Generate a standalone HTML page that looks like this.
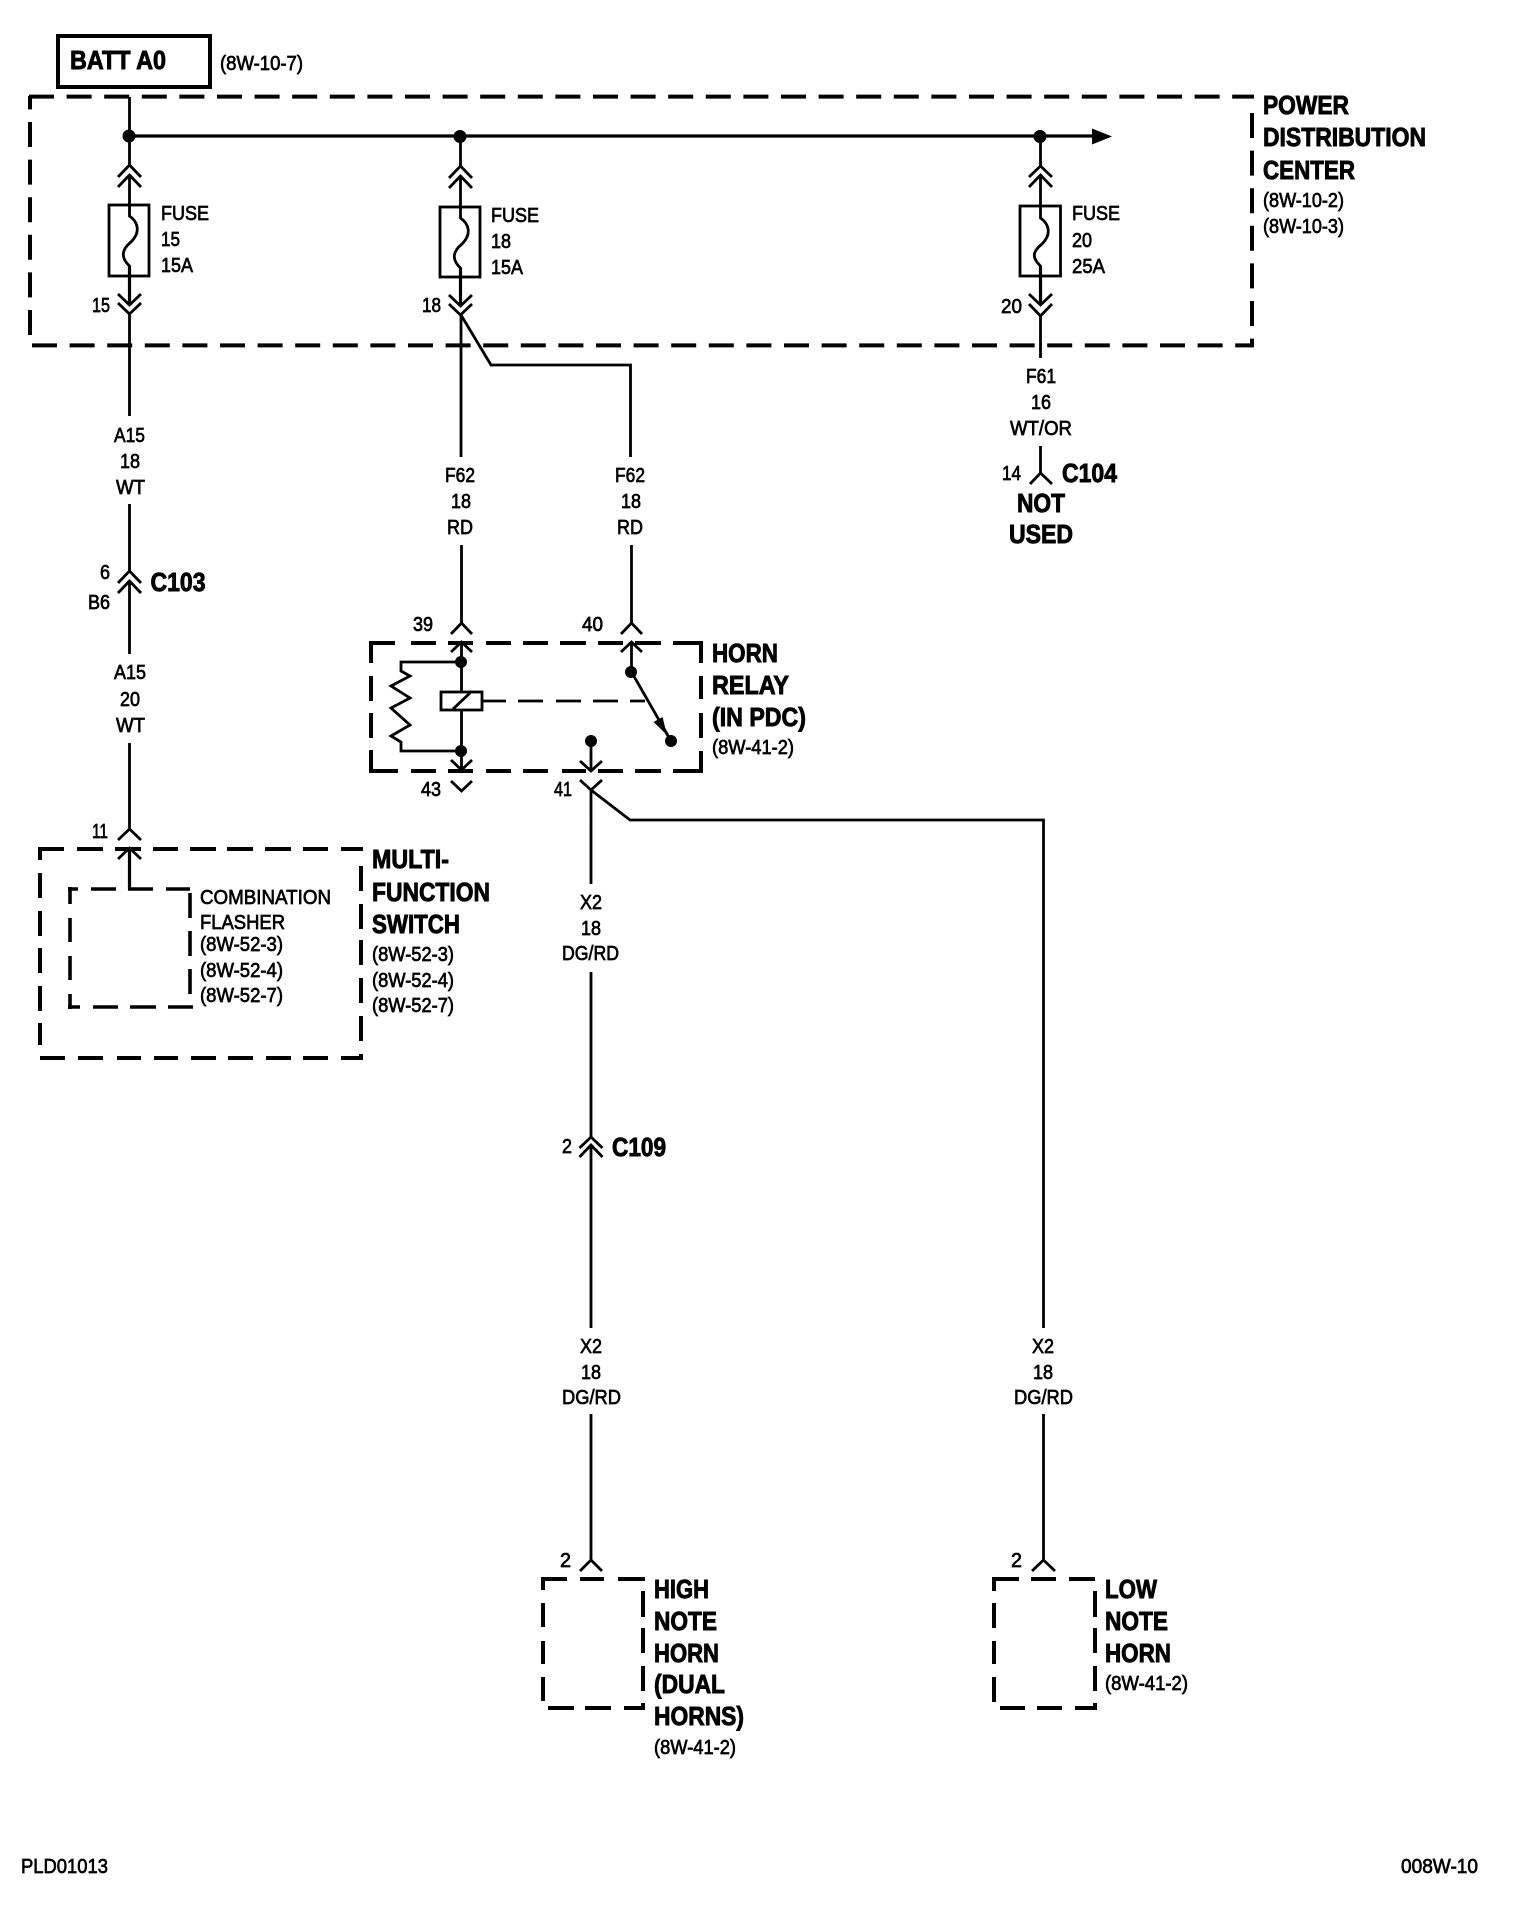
<!DOCTYPE html>
<html><head><meta charset="utf-8"><style>
html,body{margin:0;padding:0;background:#fff}
svg{display:block}
text{font-family:"Liberation Sans",sans-serif;fill:#000;stroke:#000;transform:translateY(-1px)}
.r{font-size:20px;stroke-width:.7;}
.b{font-size:26px;font-weight:bold;stroke-width:.9;}
.w{fill:none;stroke:#000;stroke-width:2.8}
.d{fill:none;stroke:#000;stroke-width:4;stroke-dasharray:25 12.6}
.e{fill:none;stroke:#000;stroke-width:4}
.f{fill:none;stroke:#000;stroke-width:3.2}
</style></head><body>
<svg width="1536" height="1930" viewBox="0 0 1536 1930" xmlns="http://www.w3.org/2000/svg">
<rect width="1536" height="1930" fill="#fff"/>

<!-- top -->
<rect x="58" y="36" width="152" height="51" fill="none" stroke="#000" stroke-width="4"/>
<text class="b" x="70" y="70" textLength="96" lengthAdjust="spacingAndGlyphs">BATT A0</text>
<text class="r" x="220" y="71" textLength="83" lengthAdjust="spacingAndGlyphs">(8W-10-7)</text>

<!-- PDC box -->
<path class="d" d="M29 96.6 H1254"/>
<path class="d" d="M30 335 V96"/>
<path class="d" d="M32 345.4 H1254"/>
<path class="d" d="M1252 113 V347"/>
<text class="b" x="1263" y="115" textLength="86" lengthAdjust="spacingAndGlyphs">POWER</text>
<text class="b" x="1263" y="147" textLength="163" lengthAdjust="spacingAndGlyphs">DISTRIBUTION</text>
<text class="b" x="1263" y="180" textLength="92" lengthAdjust="spacingAndGlyphs">CENTER</text>
<text class="r" x="1263" y="208" textLength="81" lengthAdjust="spacingAndGlyphs">(8W-10-2)</text>
<text class="r" x="1263" y="234" textLength="81" lengthAdjust="spacingAndGlyphs">(8W-10-3)</text>

<!-- bus -->
<path class="f" d="M129 136 H1095"/>
<polygon points="1092,128.5 1112,136.5 1092,144.5" fill="#000"/>
<circle cx="129" cy="136" r="6.5"/><circle cx="460" cy="136.5" r="6.5"/><circle cx="1040" cy="136.5" r="6.5"/>

<!-- column 1 -->
<path class="w" d="M129.5 97 V165 M118 177 L129.5 165 L141 177 M118 187 L129.5 175 L141 187 M129.5 175 V205"/>
<rect class="w" x="109" y="205" width="40" height="71"/>
<path class="w" d="M129.5 205 V216 C138 222,141 232,131 242 C121 250,121 258,129.5 266 V294"/>
<path class="f" d="M129.5 266 V304"/>
<path class="w" d="M118 294 L129.5 305 L141 294 M118 303 L129.5 314 L141 303 M129.5 314 V416"/>
<text class="r" x="92" y="313" textLength="18" lengthAdjust="spacingAndGlyphs">15</text>
<text class="r" x="161" y="221" textLength="48" lengthAdjust="spacingAndGlyphs">FUSE</text>
<text class="r" x="161" y="247" textLength="19" lengthAdjust="spacingAndGlyphs">15</text>
<text class="r" x="161" y="273" textLength="32" lengthAdjust="spacingAndGlyphs">15A</text>

<text class="r" x="114" y="443" textLength="31" lengthAdjust="spacingAndGlyphs">A15</text>
<text class="r" x="120" y="469" textLength="20" lengthAdjust="spacingAndGlyphs">18</text>
<text class="r" x="116" y="495" textLength="29" lengthAdjust="spacingAndGlyphs">WT</text>
<path class="w" d="M129.5 504 V571 M118 583 L129.5 571 L141 583 M118 593 L129.5 581 L141 593 M129.5 581 V654"/>
<text class="r" x="100" y="580" textLength="10" lengthAdjust="spacingAndGlyphs">6</text>
<text class="r" x="88" y="610" textLength="22" lengthAdjust="spacingAndGlyphs">B6</text>
<text class="b" x="150.5" y="592" textLength="55" lengthAdjust="spacingAndGlyphs">C103</text>
<text class="r" x="114" y="680" textLength="32" lengthAdjust="spacingAndGlyphs">A15</text>
<text class="r" x="120" y="707" textLength="20" lengthAdjust="spacingAndGlyphs">20</text>
<text class="r" x="116" y="733" textLength="29" lengthAdjust="spacingAndGlyphs">WT</text>
<path class="w" d="M129.5 743 V829 M118 840 L129.5 829 L141 840 M118 859 L129.5 848 L141 859"/>
<path class="f" d="M129.5 848 V889"/>
<text class="r" x="92" y="839" textLength="16" lengthAdjust="spacingAndGlyphs">11</text>

<!-- MFS -->
<path class="e" d="M38 849 H64 M77 849 H103 M115 849 H141 M153 849 H178 M190 849 H216 M227 849 H253 M265 849 H291 M303 849 H328 M341 849 H363
M40 849 V860 M40 873 V898 M40 911 V936 M40 948 V973 M40 986 V1011 M40 1023 V1045
M361 866 V891 M361 904 V929 M361 940 V965 M361 978 V1003 M361 1016 V1041 M361 1054 V1060
M40 1058 H65 M78 1058 H103 M117 1058 H141 M154 1058 H178 M191 1058 H216 M228 1058 H253 M266 1058 H291 M303 1058 H328 M341 1058 H363"/>
<path class="e" d="M68 889 H78 M91 889 H116 M128 889 H153 M166 889 H190
M70 887 V904 M70 918 V942 M70 956 V980 M70 994 V1009
M190 893 V918 M190 931 V956 M190 969 V994
M68 1007 H80 M93 1007 H118 M130 1007 H156 M168 1007 H193" style="stroke-width:3.6"/>
<text class="b" x="372" y="869" textLength="77" lengthAdjust="spacingAndGlyphs">MULTI-</text>
<text class="b" x="372" y="902" textLength="118" lengthAdjust="spacingAndGlyphs">FUNCTION</text>
<text class="b" x="372" y="934" textLength="88" lengthAdjust="spacingAndGlyphs">SWITCH</text>
<text class="r" x="372" y="962" textLength="82" lengthAdjust="spacingAndGlyphs">(8W-52-3)</text>
<text class="r" x="372" y="988" textLength="82" lengthAdjust="spacingAndGlyphs">(8W-52-4)</text>
<text class="r" x="372" y="1013" textLength="82" lengthAdjust="spacingAndGlyphs">(8W-52-7)</text>
<text class="r" x="200" y="905" textLength="131" lengthAdjust="spacingAndGlyphs">COMBINATION</text>
<text class="r" x="200" y="930" textLength="85" lengthAdjust="spacingAndGlyphs">FLASHER</text>
<text class="r" x="200" y="952" textLength="83" lengthAdjust="spacingAndGlyphs">(8W-52-3)</text>
<text class="r" x="200" y="978" textLength="83" lengthAdjust="spacingAndGlyphs">(8W-52-4)</text>
<text class="r" x="200" y="1003" textLength="83" lengthAdjust="spacingAndGlyphs">(8W-52-7)</text>

<!-- column 2 -->
<path class="w" d="M460.5 136 V166 M449 178 L460.5 166 L472 178 M449 188 L460.5 176 L472 188 M460.5 176 V207"/>
<rect class="w" x="440" y="207" width="40" height="70"/>
<path class="w" d="M460.5 207 V218 C469 224,472 234,462 244 C452 252,452 260,460.5 268 V295"/>
<path class="f" d="M460.5 268 V305"/>
<path class="w" d="M449 295 L460.5 306 L472 295 M449 304 L460.5 315 L472 304 M461 315 V457 M461 315 L491 365 H630.5 V457"/>
<text class="r" x="422" y="313" textLength="19" lengthAdjust="spacingAndGlyphs">18</text>
<text class="r" x="491" y="223" textLength="48" lengthAdjust="spacingAndGlyphs">FUSE</text>
<text class="r" x="491" y="249" textLength="20" lengthAdjust="spacingAndGlyphs">18</text>
<text class="r" x="491" y="275" textLength="32" lengthAdjust="spacingAndGlyphs">15A</text>
<text class="r" x="445" y="483" textLength="30" lengthAdjust="spacingAndGlyphs">F62</text>
<text class="r" x="451" y="509" textLength="20" lengthAdjust="spacingAndGlyphs">18</text>
<text class="r" x="447" y="535" textLength="26" lengthAdjust="spacingAndGlyphs">RD</text>
<text class="r" x="615" y="483" textLength="30" lengthAdjust="spacingAndGlyphs">F62</text>
<text class="r" x="621" y="509" textLength="20" lengthAdjust="spacingAndGlyphs">18</text>
<text class="r" x="617" y="535" textLength="26" lengthAdjust="spacingAndGlyphs">RD</text>
<path class="w" d="M461.5 545 V623 M451 634 L461.5 623 L472 634"/>
<path class="w" d="M631.5 545 V623 M621 634 L631.5 623 L642 634"/>
<text class="r" x="413" y="632" textLength="20" lengthAdjust="spacingAndGlyphs">39</text>
<text class="r" x="582" y="632" textLength="21" lengthAdjust="spacingAndGlyphs">40</text>

<!-- Relay -->
<path class="e" d="M369 643 H395 M411 643 H436 M448 643 H473 M486 643 H511 M523 643 H548 M560 643 H586 M598 643 H623 M635 643 H661 M673 643 H703
M371 643 V663 M371 676 V701 M371 713 V738 M371 750 V773
M701 643 V663 M701 676 V699 M701 713 V738 M701 751 V773
M369 771 H398 M411 771 H436 M448 771 H473 M486 771 H511 M523 771 H548 M562 771 H586 M598 771 H623 M635 771 H661 M673 771 H703"/>
<path class="w" d="M451 652 L461.5 642 L472 652 M461.5 642 V692 M461.5 710 V768 M451 760 L461.5 770 L472 760 M451 781 L461.5 791 L472 781"/>
<circle cx="461" cy="662" r="6"/><circle cx="461" cy="751" r="6"/>
<path class="w" d="M461 662 H401 V671 L410 676 L391 686 L410 698 L391 708 L410 725 L391 736 L401 742 V751 H461"/>
<rect class="w" x="441" y="692" width="41" height="18"/>
<path class="w" d="M453 709 L470 693"/>
<path class="w" d="M482 701 H506 M518 701 H543 M556 701 H581 M593 701 H618 M630 701 H645"/>
<path class="w" d="M621 652 L631.5 642 L642 652 M631.5 642 V672 L671 741"/>
<polygon points="662.5,717 667,735 653.5,722" fill="#000"/>
<circle cx="631" cy="672" r="6"/><circle cx="671" cy="741" r="6"/>
<circle cx="591" cy="741" r="6"/>
<path class="w" d="M591 741 V771 M580 761 L591 771 L602 761 M580 780 L591 790 L602 780 M591 790 V884 M591 790 L630 820 H1043.5 V1328"/>
<text class="r" x="421" y="797" textLength="20" lengthAdjust="spacingAndGlyphs">43</text>
<text class="r" x="554" y="797" textLength="18" lengthAdjust="spacingAndGlyphs">41</text>
<text class="b" x="712" y="663" textLength="66" lengthAdjust="spacingAndGlyphs">HORN</text>
<text class="b" x="712" y="695" textLength="77" lengthAdjust="spacingAndGlyphs">RELAY</text>
<text class="b" x="712" y="727" textLength="94" lengthAdjust="spacingAndGlyphs">(IN PDC)</text>
<text class="r" x="712" y="755" textLength="82" lengthAdjust="spacingAndGlyphs">(8W-41-2)</text>

<!-- column 3 -->
<path class="w" d="M1040.5 136 V166 M1029 177 L1040.5 166 L1052 177 M1029 187 L1040.5 175 L1052 187 M1040.5 175 V206"/>
<rect class="w" x="1020" y="206" width="40.5" height="70"/>
<path class="w" d="M1040.5 206 V218 C1049 224,1052 234,1042 244 C1032 252,1032 258,1040.5 266 V294"/>
<path class="f" d="M1040.5 266 V304"/>
<path class="w" d="M1029 294 L1040.5 305 L1052 294 M1029 304 L1040.5 316 L1052 304 M1040.5 316 V358"/>
<text class="r" x="1001" y="314" textLength="21" lengthAdjust="spacingAndGlyphs">20</text>
<text class="r" x="1072" y="221" textLength="48" lengthAdjust="spacingAndGlyphs">FUSE</text>
<text class="r" x="1072" y="248" textLength="20" lengthAdjust="spacingAndGlyphs">20</text>
<text class="r" x="1072" y="274" textLength="33" lengthAdjust="spacingAndGlyphs">25A</text>
<text class="r" x="1026" y="384" textLength="30" lengthAdjust="spacingAndGlyphs">F61</text>
<text class="r" x="1031" y="410" textLength="20" lengthAdjust="spacingAndGlyphs">16</text>
<text class="r" x="1010" y="436" textLength="62" lengthAdjust="spacingAndGlyphs">WT/OR</text>
<path class="w" d="M1040.5 446 V473 M1030 484 L1040.5 473 L1052 484"/>
<text class="r" x="1002" y="481" textLength="19" lengthAdjust="spacingAndGlyphs">14</text>
<text class="b" x="1062" y="483" textLength="55" lengthAdjust="spacingAndGlyphs">C104</text>
<text class="b" x="1017" y="513" textLength="48" lengthAdjust="spacingAndGlyphs">NOT</text>
<text class="b" x="1009" y="544" textLength="64" lengthAdjust="spacingAndGlyphs">USED</text>

<!-- X2 column -->
<text class="r" x="580" y="910" textLength="22" lengthAdjust="spacingAndGlyphs">X2</text>
<text class="r" x="581" y="936" textLength="20" lengthAdjust="spacingAndGlyphs">18</text>
<text class="r" x="562" y="961" textLength="57" lengthAdjust="spacingAndGlyphs">DG/RD</text>
<path class="w" d="M591 972 V1137 M579.5 1148 L591 1137 L602.5 1148 M579.5 1157 L591 1145 L602.5 1157 M591 1145 V1328"/>
<text class="r" x="562" y="1154" textLength="10" lengthAdjust="spacingAndGlyphs">2</text>
<text class="b" x="612" y="1157" textLength="54" lengthAdjust="spacingAndGlyphs">C109</text>
<text class="r" x="580" y="1354" textLength="22" lengthAdjust="spacingAndGlyphs">X2</text>
<text class="r" x="581" y="1380" textLength="20" lengthAdjust="spacingAndGlyphs">18</text>
<text class="r" x="562" y="1405" textLength="59" lengthAdjust="spacingAndGlyphs">DG/RD</text>
<text class="r" x="1032" y="1354" textLength="22" lengthAdjust="spacingAndGlyphs">X2</text>
<text class="r" x="1033" y="1380" textLength="20" lengthAdjust="spacingAndGlyphs">18</text>
<text class="r" x="1014" y="1405" textLength="59" lengthAdjust="spacingAndGlyphs">DG/RD</text>
<path class="w" d="M591 1414 V1560 M580 1571 L591 1560 L602 1571"/>
<path class="w" d="M1043.5 1414 V1560 M1032 1571 L1043.5 1560 L1055 1571"/>
<text class="r" x="560" y="1568" textLength="11" lengthAdjust="spacingAndGlyphs">2</text>
<text class="r" x="1011" y="1568" textLength="11" lengthAdjust="spacingAndGlyphs">2</text>

<!-- Horns -->
<path class="e" d="M541 1579 H567 M580 1579 H604 M618 1579 H645
M543 1579 V1590 M543 1603 V1627 M543 1641 V1664 M543 1677 V1701
M643 1591 V1617 M643 1628 V1653 M643 1666 V1691 M643 1703 V1710
M548 1708 H574 M585 1708 H611 M624 1708 H645"/>
<path class="e" d="M992 1579 H1019 M1031 1579 H1056 M1069 1579 H1095
M994 1579 V1591 M994 1603 V1628 M994 1641 V1664 M994 1677 V1702
M1095 1591 V1617 M1095 1628 V1653 M1095 1666 V1691 M1095 1703 V1710
M1000 1708 H1025 M1037 1708 H1062 M1075 1708 H1097"/>
<text class="b" x="654" y="1599" textLength="55" lengthAdjust="spacingAndGlyphs">HIGH</text>
<text class="b" x="654" y="1631" textLength="63" lengthAdjust="spacingAndGlyphs">NOTE</text>
<text class="b" x="654" y="1663" textLength="65" lengthAdjust="spacingAndGlyphs">HORN</text>
<text class="b" x="654" y="1694" textLength="71" lengthAdjust="spacingAndGlyphs">(DUAL</text>
<text class="b" x="654" y="1726" textLength="90" lengthAdjust="spacingAndGlyphs">HORNS)</text>
<text class="r" x="654" y="1755" textLength="82" lengthAdjust="spacingAndGlyphs">(8W-41-2)</text>
<text class="b" x="1105" y="1599" textLength="52" lengthAdjust="spacingAndGlyphs">LOW</text>
<text class="b" x="1105" y="1631" textLength="63" lengthAdjust="spacingAndGlyphs">NOTE</text>
<text class="b" x="1105" y="1663" textLength="66" lengthAdjust="spacingAndGlyphs">HORN</text>
<text class="r" x="1105" y="1691" textLength="83" lengthAdjust="spacingAndGlyphs">(8W-41-2)</text>

<!-- footer -->
<text class="r" x="21" y="1874" textLength="87" lengthAdjust="spacingAndGlyphs">PLD01013</text>
<text class="r" x="1401" y="1874" textLength="77" lengthAdjust="spacingAndGlyphs">008W-10</text>
</svg>
</body></html>
